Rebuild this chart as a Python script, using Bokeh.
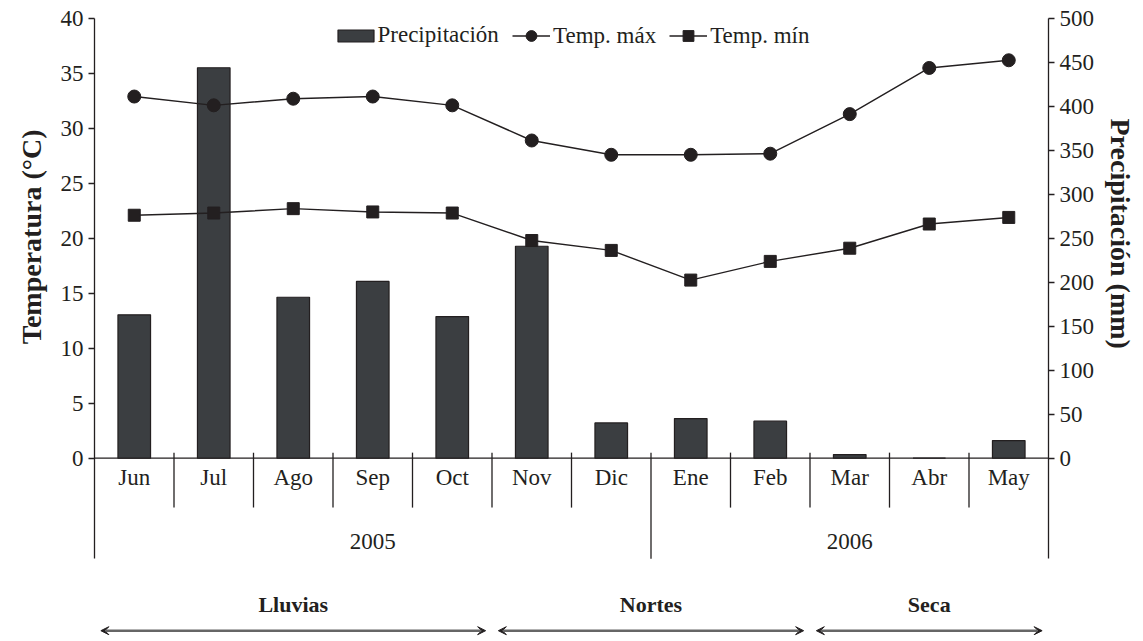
import numpy as np
from bokeh.plotting import figure
from bokeh.models import (Range1d, LinearAxis, FixedTicker, Legend, LegendItem,
                          Arrow, VeeHead, ColumnDataSource, Title)
from bokeh.core.properties import value
from bokeh.embed import file_html
from bokeh.resources import INLINE

# ---------------- data ----------------
months = ["Jun", "Jul", "Ago", "Sep", "Oct", "Nov", "Dic", "Ene", "Feb", "Mar", "Abr", "May"]
precip = [163, 444, 183, 201, 161, 241, 40, 45, 42, 4, 0, 20]          # mm
tmax = [32.9, 32.1, 32.7, 32.9, 32.1, 28.9, 27.6, 27.6, 27.7, 31.3, 35.5, 36.2]
tmin = [22.1, 22.3, 22.7, 22.4, 22.3, 19.8, 18.9, 16.2, 17.9, 19.1, 21.3, 21.9]
years = ["2005", "2006"]
year_months = [7, 5]
seasons = ["Lluvias", "Nortes", "Seca"]
season_months = [5, 4, 3]
temp_ticks = [0, 5, 10, 15, 20, 25, 30, 35, 40]
precip_ticks = [0, 50, 100, 150, 200, 250, 300, 350, 400, 450, 500]

# ---------------- style ----------------
INK = "#231f20"
BAR = "#3b3e41"
FONT = "Liberation Serif"
FS = "23px"

n = len(months)
xc = [i + 0.5 for i in range(n)]

T_TOP = temp_ticks[-1]
P_TOP = precip_ticks[-1]
T_LOW = -16.41           # frame extends below 0 to hold the category annotations
ratio = P_TOP / T_TOP

p = figure(frame_width=954, frame_height=620,
           x_range=Range1d(0, n), y_range=Range1d(T_LOW, T_TOP),
           output_backend="svg", toolbar_location=None,
           x_axis_location=None,
           min_border_left=94, min_border_right=0, min_border_top=18, min_border_bottom=0,
           outline_line_color=None, background_fill_color="white")
p.extra_y_ranges = {"pp": Range1d(T_LOW * ratio, P_TOP)}
p.xgrid.visible = False
p.ygrid.visible = False

def style_axis(ax):
    ax.axis_line_color = INK
    ax.axis_line_width = 1.3
    ax.major_tick_line_color = INK
    ax.major_tick_line_width = 1.3
    ax.major_tick_in = 0
    ax.major_tick_out = 6
    ax.minor_tick_line_color = None
    ax.major_label_text_font = FONT
    ax.major_label_text_font_size = FS
    ax.major_label_text_color = INK
    ax.major_label_standoff = 5

LINE_BOTTOM = -9.15   # depth of long separators / axis extension
SHORT_BOTTOM = -4.5
SEP_TOP = 0.5

ax_l = p.yaxis[0]
style_axis(ax_l)
ax_l.ticker = FixedTicker(ticks=temp_ticks)
ax_l.bounds = (LINE_BOTTOM, T_TOP)

ax_r = LinearAxis(y_range_name="pp", ticker=FixedTicker(ticks=precip_ticks),
                  bounds=(LINE_BOTTOM * ratio, P_TOP))
style_axis(ax_r)
p.add_layout(ax_r, "right")

# axis titles placed beside the axes, aligned with the upper (value) part of the axes
title_kw = dict(text_font=FONT, text_font_size="28px", text_font_style="bold",
                text_color=INK, vertical_align="middle")
p.add_layout(Title(text="Temperatura (°C)", align="right", offset=111, standoff=19, **title_kw), "left")
p.add_layout(Title(text="Precipitación (mm)", align="left", offset=100, standoff=13, **title_kw), "right")

src = ColumnDataSource(dict(x=xc, month=months, precip=precip, tmax=tmax, tmin=tmin))

# baseline
p.segment(x0=[0], x1=[n], y0=[0], y1=[0], line_color=INK, line_width=1.3)

# separators
bounds_year = np.cumsum([0] + year_months)
short_x = [b for b in range(1, n) if b not in bounds_year]
long_x = [int(b) for b in bounds_year[1:-1]]
p.segment(x0=short_x, x1=short_x, y0=[SEP_TOP] * len(short_x), y1=[SHORT_BOTTOM] * len(short_x),
          line_color=INK, line_width=1.3)
p.segment(x0=long_x, x1=long_x, y0=[SEP_TOP] * len(long_x), y1=[LINE_BOTTOM] * len(long_x),
          line_color=INK, line_width=1.3)

bars = p.vbar(x="x", top="precip", bottom=0, width=0.41, y_range_name="pp", source=src,
              fill_color=BAR, line_color=INK, line_width=1.2)
lmax = p.line("x", "tmax", source=src, line_color=INK, line_width=1.4)
smax = p.scatter("x", "tmax", source=src, marker="circle", size=13, fill_color=INK, line_color=INK)
lmin = p.line("x", "tmin", source=src, line_color=INK, line_width=1.4)
smin = p.scatter("x", "tmin", source=src, marker="square", size=12, fill_color=INK, line_color=INK)

# month labels
p.text(x="x", y=-1.8, text="month", source=src, text_font=value(FONT), text_font_size=FS,
       text_color=INK, text_align="center", text_baseline="middle")

# year labels
yc = [float(a + b) / 2 for a, b in zip(bounds_year[:-1], bounds_year[1:])]
p.text(x=yc, y=[-7.55] * len(years), text=years, text_font=value(FONT), text_font_size=FS,
       text_color=INK, text_align="center", text_baseline="middle")

# seasons
bounds_season = np.cumsum([0] + season_months)
sc = [float(a + b) / 2 for a, b in zip(bounds_season[:-1], bounds_season[1:])]
p.text(x=sc, y=[-13.3] * len(seasons), text=seasons, text_font=value(FONT), text_font_size="22px",
       text_font_style="bold", text_color=INK, text_align="center", text_baseline="middle")
pad = 0.08
arr_src = ColumnDataSource(dict(x0=[float(b) + pad for b in bounds_season[:-1]],
                                x1=[float(b) - pad for b in bounds_season[1:]],
                                y=[-15.7] * len(seasons)))
p.add_layout(Arrow(x_start="x0", x_end="x1", y_start="y", y_end="y", source=arr_src,
                   start=VeeHead(size=8, fill_color=INK, line_color=INK, line_width=1),
                   end=VeeHead(size=8, fill_color=INK, line_color=INK, line_width=1),
                   line_color="#666666", line_width=2.5))

# legends
common = dict(orientation="horizontal", padding=0, margin=0, border_line_color=None,
              background_fill_alpha=0, label_text_font=FONT, label_text_font_size=FS,
              label_text_color=INK)
leg1 = Legend(items=[LegendItem(label="Precipitación", renderers=[bars])],
              location=(238.5, 590), glyph_width=45, glyph_height=15, label_standoff=0,
              spacing=0, **common)
leg2 = Legend(items=[LegendItem(label="Temp. máx", renderers=[lmax, smax]),
                     LegendItem(label="Temp. mín", renderers=[lmin, smin])],
              location=(418, 589), glyph_width=38, glyph_height=27, label_standoff=3,
              spacing=13, **common)
p.add_layout(leg1, "center")
p.add_layout(leg2, "center")

open("out.html", "w").write(file_html(p, INLINE))
